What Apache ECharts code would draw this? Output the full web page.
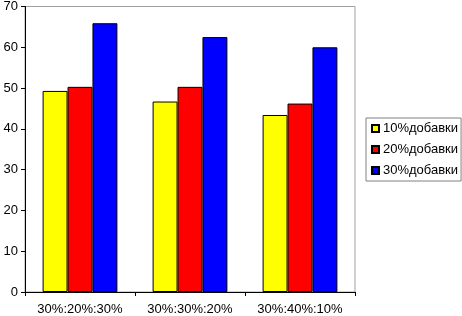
<!DOCTYPE html>
<html>
<head>
<meta charset="utf-8">
<script src="https://cdn.jsdelivr.net/npm/echarts@6/dist/echarts.min.js"></script>
<style>
  html, body { margin: 0; padding: 0; background: #fff; }
  #chart { width: 462px; height: 316px; }
</style>
</head>
<body>
<div id="chart"></div>
<script>
const categories = ['30%:20%:30%', '30%:30%:20%', '30%:40%:10%'];
const seriesNames = ['10%добавки', '20%добавки', '30%добавки'];
const add10 = [49.3, 46.7, 43.4];
const add20 = [50.3, 50.3, 46.2];
const add30 = [65.9, 62.5, 60.0];
const colors = ['#FFFF00', '#FF0000', '#0000FF'];

const font = 'Liberation Sans, Arial, sans-serif';

const chart = echarts.init(document.getElementById('chart'));

const barStyle = (color) => ({
  color: color,
  borderColor: '#000',
  borderWidth: 1
});

chart.setOption({
  animation: false,
  backgroundColor: '#fff',
  grid: {
    left: 25,
    right: 107,
    top: 5,
    bottom: 23,
    show: true,
    borderColor: '#a0a0a0',
    borderWidth: 1
  },
  legend: {
    orient: 'vertical',
    left: 366,
    top: 118,
    itemWidth: 7,
    itemHeight: 7,
    itemGap: 8,
    icon: 'rect',
    padding: [4, 3, 4, 5],
    borderColor: '#808080',
    borderWidth: 1,
    textStyle: { fontFamily: font, fontSize: 13, color: '#000', padding: [0, 0, 0, -1] },
    data: seriesNames
  },
  xAxis: {
    type: 'category',
    data: categories,
    axisLine: { lineStyle: { color: '#000', width: 1 } },
    axisTick: { show: true, length: 4, alignWithLabel: false, lineStyle: { color: '#000' } },
    axisLabel: { fontFamily: font, fontSize: 13, color: '#000', margin: 11, interval: 0 },
    splitLine: { show: false }
  },
  yAxis: {
    type: 'value',
    min: 0,
    max: 70,
    interval: 10,
    axisLine: { show: true, lineStyle: { color: '#000', width: 1 } },
    axisTick: { show: true, length: 4, lineStyle: { color: '#000' } },
    axisLabel: { fontFamily: font, fontSize: 13, color: '#000', margin: 7 },
    splitLine: { show: false }
  },
  series: [
    { name: seriesNames[0], type: 'bar', data: add10, itemStyle: barStyle(colors[0]), barGap: '0%', barCategoryGap: '32%' },
    { name: seriesNames[1], type: 'bar', data: add20, itemStyle: barStyle(colors[1]), barGap: '0%', barCategoryGap: '32%' },
    { name: seriesNames[2], type: 'bar', data: add30, itemStyle: barStyle(colors[2]), barGap: '0%', barCategoryGap: '32%' }
  ]
});
</script>
</body>
</html>
